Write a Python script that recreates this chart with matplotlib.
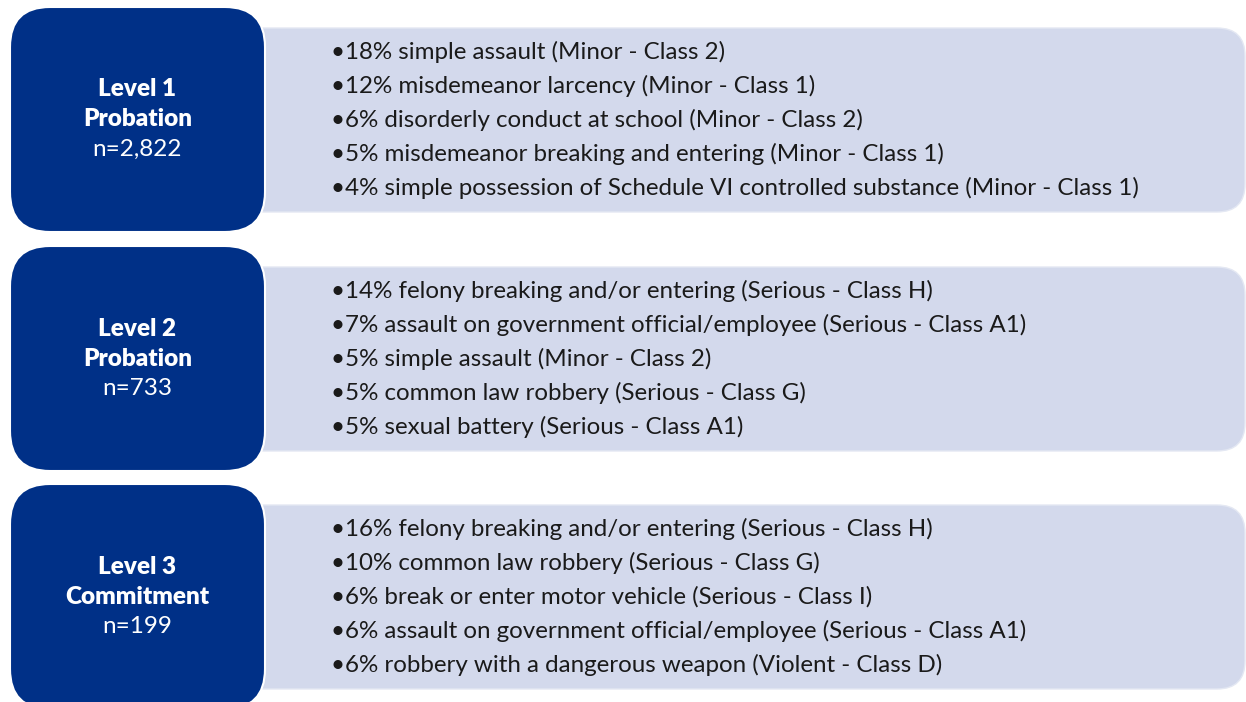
import matplotlib
matplotlib.use("Agg")
import matplotlib.pyplot as plt
from matplotlib.patches import FancyBboxPatch

# ---- data ----
levels = ["Level 1", "Level 2", "Level 3"]
dispositions = ["Probation", "Probation", "Commitment"]
n_counts = [2822, 733, 199]

l1_pct = [18, 12, 6, 5, 4]
l1_offense = ["simple assault", "misdemeanor larcency", "disorderly conduct at school",
              "misdemeanor breaking and entering",
              "simple possession of Schedule VI controlled substance"]
l1_class = ["Minor - Class 2", "Minor - Class 1", "Minor - Class 2", "Minor - Class 1",
            "Minor - Class 1"]

l2_pct = [14, 7, 5, 5, 5]
l2_offense = ["felony breaking and/or entering", "assault on government official/employee",
              "simple assault", "common law robbery", "sexual battery"]
l2_class = ["Serious - Class H", "Serious - Class A1", "Minor - Class 2",
            "Serious - Class G", "Serious - Class A1"]

l3_pct = [16, 10, 6, 6, 6]
l3_offense = ["felony breaking and/or entering", "common law robbery",
              "break or enter motor vehicle", "assault on government official/employee",
              "robbery with a dangerous weapon"]
l3_class = ["Serious - Class H", "Serious - Class G", "Serious - Class I",
            "Serious - Class A1", "Violent - Class D"]

groups = [(l1_pct, l1_offense, l1_class), (l2_pct, l2_offense, l2_class),
          (l3_pct, l3_offense, l3_class)]

# ---- style ----
W, H = 1246, 702
DARK = "#003087"
LIGHT = "#D3D9EC"
TXT = "#1a1a1a"
FONT = ["Lato", "DejaVu Sans"]

fig = plt.figure(figsize=(W / 100, H / 100), dpi=100)
ax = fig.add_axes([0, 0, 1, 1])
ax.set_xlim(0, W)
ax.set_ylim(H, 0)
ax.axis("off")

dark_tops = [7, 246, 484]
dark_h = 225
light_off = 21
light_h = 184
dark_x0, dark_x1 = 10, 265
light_x0, light_x1 = 200, 1245
line_step = 34

texts = []
for i, (lvl, disp, n) in enumerate(zip(levels, dispositions, n_counts)):
    top = dark_tops[i]
    ltop = top + light_off
    light = FancyBboxPatch((light_x0, ltop), light_x1 - light_x0, light_h,
                           boxstyle="round,pad=0,rounding_size=28",
                           facecolor=LIGHT, edgecolor="#e4e8f3", linewidth=1, zorder=1)
    ax.add_patch(light)
    dark = FancyBboxPatch((dark_x0, top), dark_x1 - dark_x0, dark_h,
                          boxstyle="round,pad=0,rounding_size=40",
                          facecolor=DARK, edgecolor="white", linewidth=1.5, zorder=2)
    ax.add_patch(dark)
    cx = (dark_x0 + dark_x1) / 2
    cy = top + dark_h / 2
    ax.text(cx, cy - 30, lvl, ha="center", va="center", color="white",
            fontsize=17.5, fontweight="heavy", family=FONT, zorder=3)
    ax.text(cx, cy, disp, ha="center", va="center", color="white",
            fontsize=17.5, fontweight="heavy", family=FONT, zorder=3)
    ax.text(cx, cy + 30, f"n={n:,}", ha="center", va="center", color="white",
            fontsize=17.5, family=FONT, zorder=3)

    pcts, offs, clss = groups[i]
    lcy = ltop + light_h / 2
    for j, (p, o, c) in enumerate(zip(pcts, offs, clss)):
        y = lcy + (j - 2) * line_step
        t = ax.text(331, y, f"\u2022{p}% {o} ({c})", ha="left", va="center",
                    color=TXT, fontsize=15, family=FONT, zorder=3)
        texts.append(t)

# fit body font size so the longest line spans ~808 px like the reference
fig.canvas.draw()
r = fig.canvas.get_renderer()
longest = max(t.get_window_extent(r).width for t in texts)
scale = 808 / longest
for t in texts:
    t.set_fontsize(15 * scale)

fig.savefig("out.png", dpi=100)
